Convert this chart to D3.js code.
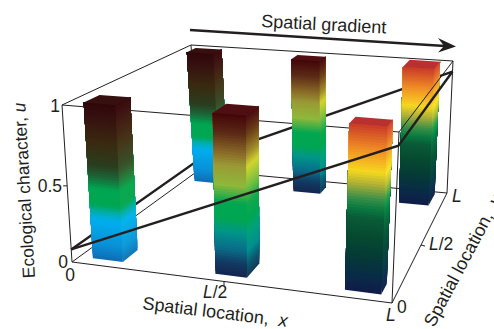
<!DOCTYPE html>
<html><head><meta charset="utf-8">
<script src="https://cdnjs.cloudflare.com/ajax/libs/d3/7.8.5/d3.min.js"></script>
<style>html,body{margin:0;padding:0;background:#fff}svg{display:block}
text{font-family:"Liberation Sans",Arial,sans-serif;fill:#231f20}</style></head><body>
<svg id="c" width="494" height="329"></svg>
<script>
// ---- data (normalised plot units) ----
const barNames = ["b2","b4","b6","b1","b3","b5"];
const barX0 = [0.037,0.425,0.84,0.042,0.43,0.84];
const barX1 = [0.135,0.53,0.955,0.137,0.53,0.955];
const barY0 = [0.89,0.885,0.875,0.06,0.06,0.062];
const barY1 = [0.96,0.95,0.98,0.186,0.2,0.158];
const barTop = [1,1,1,1,1,1];
const stopsCold = [0,0.09,0.25,0.3,0.35,0.45,0.52,0.6,0.75,0.9,1];
const colorsCold = ["#0e6cb4","#0a8fd6","#00aeef","#00aeb0","#00a651","#00a651","#1a6a3a","#2a3d1f","#3a2a10","#361210","#30060a"];
const sideCold = ["#1176b8","#0f9ad8","#06b4ee","#06b0a8","#0aa850","#0aa850","#2a7a3a","#38502a","#463618","#421a14","#3a0a0e"];
const stopsMid = [0,0.08,0.16,0.27,0.35,0.45,0.56,0.68,0.76,0.88,1];
const colorsMid = ["#14254f","#123a62","#0a6a88","#00968a","#00a651","#00a651","#8fb83a","#9a9a35","#8a6a28","#5c2a16","#420609"];
const sideMid = ["#123a5a","#0d5a70","#008f90","#00a27a","#00a651","#10a84e","#7cc040","#d2d42e","#a08a2c","#6b3f18","#4a0a10"];
const stopsHot = [0,0.09,0.21,0.33,0.44,0.5,0.56,0.64,0.72,0.78,0.86,1];
const colorsHot = ["#0f1c48","#0a2a48","#053a36","#064a30","#0a5a38","#0a7a40","#3a9048","#a8ad38","#f5d820","#f5b523","#ef8a25","#c93a28"];
const sideHot = ["#132450","#0c3350","#07463e","#075638","#0a7040","#0a8a48","#30a04c","#b4c038","#f8e428","#f8c62a","#f29a2c","#d44430"];
const barKinds = ["cold","mid","hot","cold","mid","hot"];
const frontLine = [[0,0,0.08],[1,0,0.92],[1,1,0.92]];
const backLine = [[0,0,0.08],[0,1,0.08],[1,1,0.92]];
const uTicks = [0,0.485,1], uLabels = ["0","0.5","1"];

// ---- projection through d3 scales ----
const cornerIdx = [0,1];
const sx = d3.scaleLinear().domain(cornerIdx).range(cornerIdx);
const floorPts = {a:[72,262],b:[392,303],c:[447,193],d:[199,170]};
const roofPts  = {a:[62,105],b:[399,132],c:[453,61],d:[191,45]};
function bil(p,x,y){
  const f = k => d3.scaleLinear().domain([0,1]).range([
    d3.scaleLinear().domain([0,1]).range([p.a[k],p.b[k]])(x),
    d3.scaleLinear().domain([0,1]).range([p.d[k],p.c[k]])(x)])(y);
  return [f(0),f(1)];
}
function P(x,y,u){
  const a=bil(floorPts,sx(x),sx(y)), b=bil(roofPts,sx(x),sx(y));
  return [a[0]+(b[0]-a[0])*u, a[1]+(b[1]-a[1])*u];
}
const svg=d3.select("#c");
const line=d3.line();
const INK="#231f20";
function thin(pts,w){svg.append("path").attr("d",line(pts)).attr("fill","none").attr("stroke",INK).attr("stroke-width",w||1);}
function edge(a,b,w){thin([P(...a),P(...b)],w);}
function poly(pts,fill){svg.append("path").attr("d",line(pts)+"Z").attr("fill",fill);}

// back frame
edge([0,0,1],[1,0,1]);
edge([0,0,1],[0,1,1]);
edge([0,1,1],[1,1,1]);
edge([0,1,0],[0,1,1]);
edge([1,1,0],[1,1,1]);
edge([0,0,0],[0,1,0]);
edge([0,1,0],[1,1,0]);
edge([0,0,0],[0,0,1]);
edge([0,0,0],[1,0,0]);
edge([1,0,0],[1,1,0]);
// back plane lines
thin(backLine.map(d=>P(...d)),2.4);

// bars
const SL=60;
barNames.forEach((n,i)=>{
  const k=barKinds[i];
  const st=k=="cold"?stopsCold:k=="mid"?stopsMid:stopsHot;
  const co=k=="cold"?colorsCold:k=="mid"?colorsMid:colorsHot;
  const si=k=="cold"?sideCold:k=="mid"?sideMid:sideHot;
  const col=d3.scaleLinear().domain(st).range(co).interpolate(d3.interpolateRgb);
  const side=d3.scaleLinear().domain(st).range(si).interpolate(d3.interpolateRgb);
  const x0=barX0[i],x1=barX1[i],y0=barY0[i],y1=barY1[i],h=barTop[i];
  d3.range(SL).forEach(j=>{
    const t0=j/SL,t=(j+0.5)/SL;
    poly([P(x0,y0,t0*h),P(x1,y0,t0*h),P(x1,y0,h),P(x0,y0,h)],col(t));
    poly([P(x1,y0,t0*h),P(x1,y1,t0*h),P(x1,y1,h),P(x1,y0,h)],side(t));
  });
  const tf=k=="hot"?"#b83030":(k=="mid"?"#4e0e12":"#35100f");
  poly([P(x0,y0,h),P(x1,y0,h),P(x1,y1,h),P(x0,y1,h)],tf);
});

// front frame & plane lines
edge([1,0,0],[1,0,1]);
edge([1,0,1],[1,1,1]);
thin(frontLine.map(d=>P(...d)),2.4);

// ticks
thin([P(0,0,uTicks[1]),[P(0,0,uTicks[1])[0]-4,P(0,0,uTicks[1])[1]]]);
const xt=P(0.475,0,0); thin([xt,[xt[0],xt[1]+4]]);
const yt=P(1,0.527,0); thin([yt,[yt[0]+4,yt[1]+1]]);

// arrow
thin([[190,30],[445,46]],2.4);
svg.append("path").attr("d","M456,46.5L438,38L444,46L438,52.5Z").attr("fill",INK);

function T(str,x,y,rot,opt){
  opt=opt||{};
  const t=svg.append("text").attr("transform",`translate(${x},${y}) rotate(${rot||0})`)
    .attr("font-size",opt.size||17.5).attr("text-anchor",opt.anchor||"start");
  str.forEach(s=>t.append("tspan").attr("font-style",s[1]?"italic":"normal").text(s[0]));
}
T([["Spatial gradient"]],261,27,3,{size:18});
T([["Ecological character, "],["u",1]],35,278,-93.2,{size:17.5});
T([[uLabels[2]]],60,112,0,{anchor:"end"});
T([[uLabels[1]]],62,192,0,{anchor:"end"});
T([[uLabels[0]]],68,268,0,{anchor:"end"});
T([["0"]],75,281,0,{anchor:"end"});
T([["L",1],["/2"]],203,298);
T([["Spatial location,\u00a0\u00a0"],["x",1]],142,309,7,{size:18});
T([["L",1]],386,321);
T([["0"]],397,313);
T([["L",1],["/2"]],429,250);
T([["L",1]],452,202);
T([["Spatial location,\u00a0\u00a0"],["y",1]],434,328,-62,{size:18});
</script></body></html>
